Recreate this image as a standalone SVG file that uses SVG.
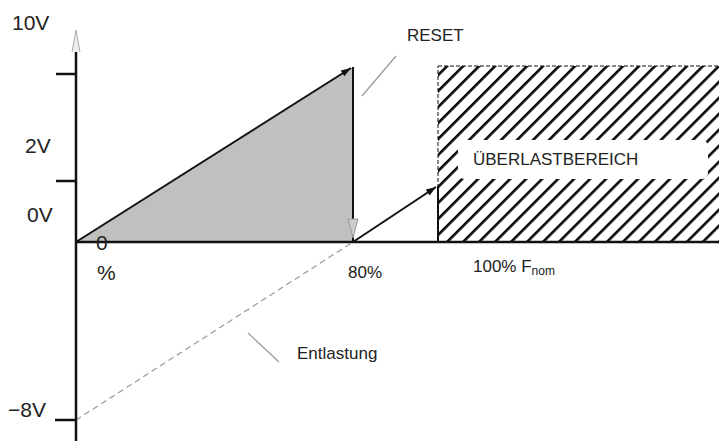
<svg xmlns="http://www.w3.org/2000/svg" width="719" height="441" viewBox="0 0 719 441">
<style>
.t{font-family:"Liberation Sans",Arial,sans-serif;fill:#222}
.ax{stroke:#111;stroke-width:2.5;fill:none}
.ln{stroke:#111;stroke-width:2;fill:none}
.lead{stroke:#999;stroke-width:1.2;fill:none}
.big{font-size:21px}
.sm{font-size:17px}
</style>
<defs>
<pattern id="hatch" patternUnits="userSpaceOnUse" width="11.3" height="11.3" patternTransform="rotate(45)">
<line x1="0" y1="0" x2="0" y2="11.3" stroke="#111" stroke-width="5.4"/>
</pattern>
<marker id="big" viewBox="0 0 10 10" refX="10" refY="5" markerWidth="16" markerHeight="10" markerUnits="userSpaceOnUse" orient="auto">
<path d="M0,1.5 L10,5 L0,8.5 z" fill="#111"/>
</marker>
</defs>
<g id="overload">
<rect x="438" y="66" width="290" height="176" fill="url(#hatch)"/>
<rect x="438" y="66" width="290" height="176" fill="none" stroke="#111" stroke-width="1" stroke-dasharray="4 2"/>
<rect x="458" y="140" width="250" height="39" rx="6" fill="#fff"/>
<text class="t sm" x="473" y="165">ÜBERLASTBEREICH</text>
</g>
<g id="ramp">
<polygon points="76,242 353,67 353,242" fill="#c0c0c0"/>
</g>
<g id="connectors">
<line class="ln" x1="76" y1="242" x2="351" y2="68" marker-end="url(#big)"/>
<line class="ln" x1="353" y1="67" x2="353" y2="242"/>
<path d="M348,219 L353,238 L358,219 z" fill="#ccc" stroke="#999" stroke-width="1"/>
<line class="ln" x1="353" y1="242" x2="436" y2="187" marker-end="url(#big)"/>
<line class="ln" x1="438" y1="186" x2="438" y2="242"/>
<line x1="76" y1="420" x2="353" y2="242" stroke="#999" stroke-width="1.2" stroke-dasharray="6 4"/>
<line class="lead" x1="362" y1="96" x2="396" y2="56"/>
<line class="lead" x1="248" y1="333" x2="279" y2="362"/>
</g>
<g id="axes">
<line class="ax" x1="76" y1="441" x2="76" y2="44"/>
<path d="M72,52 L76,30 L80,52" fill="#eee" stroke="#aaa" stroke-width="1"/>
<line class="ax" x1="76" y1="242" x2="719" y2="242"/>
<line class="ax" x1="56" y1="74" x2="76" y2="74"/>
<line class="ax" x1="56" y1="181" x2="76" y2="181"/>
<line class="ax" x1="55" y1="420" x2="76" y2="420"/>
</g>
<g id="labels">
<text class="t big" x="12" y="30">10V</text>
<text class="t big" x="25" y="153">2V</text>
<text class="t big" x="27" y="222">0V</text>
<text class="t big" x="8" y="417">−8V</text>
<text class="t big" x="96" y="250">0</text>
<text class="t big" x="97" y="280">%</text>
<text class="t sm" x="348" y="278">80%</text>
<text class="t sm" x="473" y="272">100% F<tspan font-size="12" dy="3">nom</tspan></text>
<text class="t sm" x="407" y="41">RESET</text>
<text class="t sm" x="297" y="359">Entlastung</text>
</g>
</svg>
